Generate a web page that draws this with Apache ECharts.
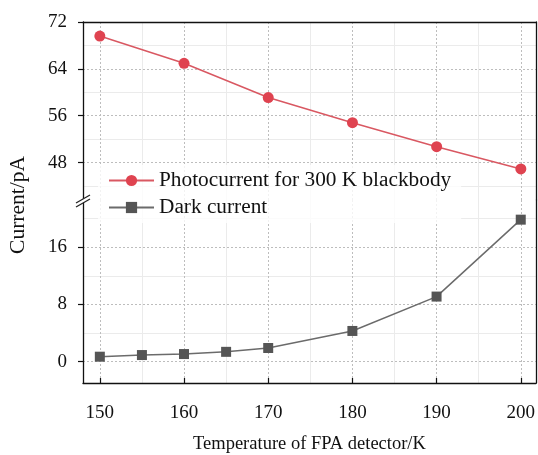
<!DOCTYPE html>
<html>
<head>
<meta charset="utf-8">
<script src="https://cdn.jsdelivr.net/npm/echarts@6/dist/echarts.min.js"></script>
<style>html,body{margin:0;padding:0;background:#fff}#c{width:538px;height:455px}</style>
</head>
<body>
<div id="c"></div>
<script>
var temps = [150, 160, 170, 180, 190, 200];
var photoCurrent = [69.6, 64.95, 59.1, 54.8, 50.7, 46.9];
var darkTemps = [150, 155, 160, 165, 170, 180, 190, 200];
var darkCurrent = [0.68, 0.91, 1.05, 1.36, 1.9, 4.28, 9.09, 19.85];
var xTicks = [150, 160, 170, 180, 190, 200];
var xMinor = [155, 165, 175, 185, 195];
var yTopTicks = [48, 56, 64, 72];
var yTopMinor = [44, 52, 60, 68];
var yBotTicks = [0, 8, 16];
var yBotMinor = [4, 12, 20];
var seriesNames = ['Photocurrent for 300 K blackbody', 'Dark current'];

var FONT = '"Liberation Serif","Times New Roman",serif';
var chart = echarts.init(document.getElementById('c'), null, {renderer: 'canvas'});

function pairs(xs, ys) { return xs.map(function (x, i) { return [x, ys[i]]; }); }

var majorSplit = {show: true, lineStyle: {color: '#bdbdbd', type: [2, 2], width: 1}};
var minorSplit = {show: true, lineStyle: {color: '#ebebeb', type: 'solid', width: 1}};
var axisLineBlack = {show: true, onZero: false, lineStyle: {color: '#111', width: 1.3}};
var noLine = {show: false, onZero: false};

var option = {
  animation: false,
  backgroundColor: '#fff',
  grid: [
    {left: 83, right: 2, top: 22, height: 178},
    {left: 83, right: 2, top: 200, height: 188}
  ],
  xAxis: [
    {type: 'value', gridIndex: 0, position: 'top', min: 148, max: 201.8,
     axisLine: axisLineBlack, axisTick: {show: false, customValues: xTicks},
     axisLabel: {show: false, customValues: xTicks}, splitLine: majorSplit},
    {type: 'value', gridIndex: 0, position: 'bottom', min: 148, max: 201.8,
     axisLine: noLine, axisTick: {show: false, customValues: xMinor},
     axisLabel: {show: false, customValues: xMinor}, splitLine: minorSplit},
    {type: 'value', gridIndex: 1, position: 'bottom', min: 148, max: 201.8,
     axisLine: axisLineBlack,
     axisTick: {show: true, inside: true, length: 5, customValues: xTicks, lineStyle: {color: '#111', width: 1.2}},
     axisLabel: {show: true, customValues: xTicks, margin: 21, fontFamily: FONT, fontSize: 19, color: '#111'},
     splitLine: majorSplit,
     name: 'Temperature of FPA detector/K', nameLocation: 'middle', nameGap: 52,
     nameTextStyle: {fontFamily: FONT, fontSize: 18.5, color: '#111'}},
    {type: 'value', gridIndex: 1, position: 'top', min: 148, max: 201.8,
     axisLine: noLine, axisTick: {show: false, customValues: xMinor},
     axisLabel: {show: false, customValues: xMinor}, splitLine: minorSplit}
  ],
  yAxis: [
    {type: 'value', gridIndex: 0, position: 'left', min: 41.6, max: 72,
     axisLine: axisLineBlack,
     axisTick: {show: true, inside: false, length: 5, customValues: yTopTicks, lineStyle: {color: '#111', width: 1.2}},
     axisLabel: {show: true, customValues: yTopTicks, margin: 16, fontFamily: FONT, fontSize: 19, color: '#111'},
     splitLine: majorSplit},
    {type: 'value', gridIndex: 0, position: 'right', min: 41.6, max: 72,
     axisLine: axisLineBlack, axisTick: {show: false, customValues: yTopMinor},
     axisLabel: {show: false, customValues: yTopMinor}, splitLine: minorSplit},
    {type: 'value', gridIndex: 1, position: 'left', min: -3, max: 22.6,
     axisLine: axisLineBlack,
     axisTick: {show: true, inside: false, length: 5, customValues: yBotTicks, lineStyle: {color: '#111', width: 1.2}},
     axisLabel: {show: true, customValues: yBotTicks, margin: 16, fontFamily: FONT, fontSize: 19, color: '#111'},
     splitLine: majorSplit},
    {type: 'value', gridIndex: 1, position: 'right', min: -3, max: 22.6,
     axisLine: axisLineBlack, axisTick: {show: false, customValues: yBotMinor},
     axisLabel: {show: false, customValues: yBotMinor}, splitLine: minorSplit}
  ],
  legend: {
    orient: 'vertical', left: 98, top: 165,
    padding: [5, 10, 5, 10], itemWidth: 45, itemHeight: 14, itemGap: 6,
    backgroundColor: 'rgba(255,255,255,0.8)', borderWidth: 0,
    textStyle: {fontFamily: FONT, fontSize: 21.3, color: '#111', lineHeight: 20},
    data: seriesNames
  },
  series: [
    {name: seriesNames[0], type: 'line', xAxisIndex: 0, yAxisIndex: 0,
     data: pairs(temps, photoCurrent), symbol: 'circle', symbolSize: 11,
     itemStyle: {color: '#df4350'}, lineStyle: {color: '#d95862', width: 1.5}, z: 5},
    {name: seriesNames[1], type: 'line', xAxisIndex: 2, yAxisIndex: 2,
     data: pairs(darkTemps, darkCurrent), symbol: 'rect', symbolSize: 10,
     itemStyle: {color: '#555555'}, lineStyle: {color: '#6b6b6b', width: 1.5}, z: 5}
  ],
  graphic: [
    {type: 'text', left: 7, top: 156, rotation: Math.PI / 2, z: 10,
     style: {text: 'Current/pA', font: '21.5px ' + FONT, fill: '#111'}},
    {type: 'polygon', z: 20, shape: {points: [[76, 203], [90, 195], [90, 199], [76, 207]]},
     style: {fill: '#fff'}},
    {type: 'line', z: 21, shape: {x1: 76, y1: 203, x2: 90, y2: 195}, style: {stroke: '#222', lineWidth: 1.2}},
    {type: 'line', z: 21, shape: {x1: 76, y1: 207, x2: 90, y2: 199}, style: {stroke: '#222', lineWidth: 1.2}}
  ]
};
chart.setOption(option);
</script>
</body>
</html>
